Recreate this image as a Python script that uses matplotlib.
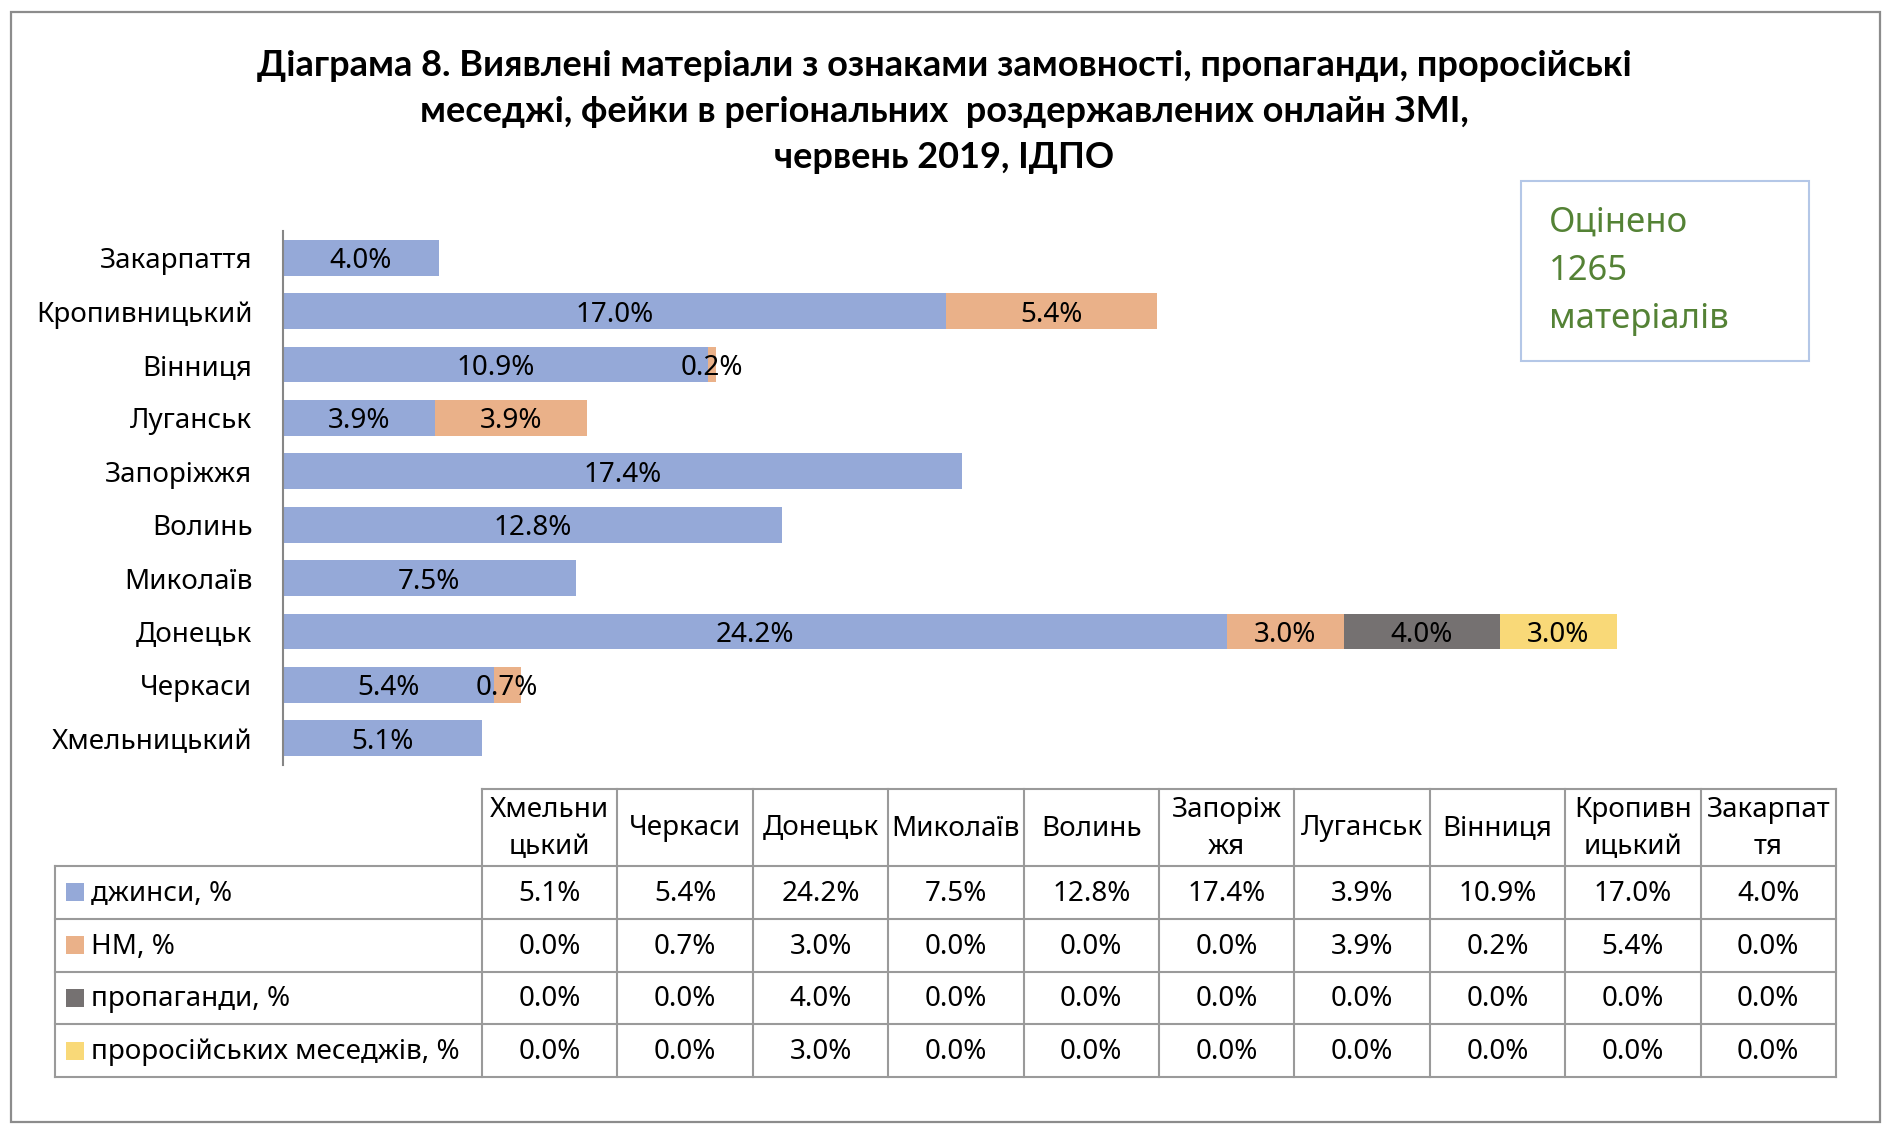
import matplotlib
matplotlib.use('Agg')
import matplotlib.pyplot as plt
from matplotlib.patches import Rectangle

plt.rcParams['font.family'] = ['Noto Sans', 'DejaVu Sans']

# data (table order, bottom bar first)
regions = ['Хмельницький', 'Черкаси', 'Донецьк', 'Миколаїв', 'Волинь',
           'Запоріжжя', 'Луганськ', 'Вінниця', 'Кропивницький', 'Закарпаття']
header_labels = ['Хмельни\nцький', 'Черкаси', 'Донецьк', 'Миколаїв', 'Волинь',
                 'Запоріж\nжя', 'Луганськ', 'Вінниця', 'Кропивн\nицький', 'Закарпат\nтя']
series_names = ['джинси, %', 'НМ, %', 'пропаганди, %', 'проросійських меседжів, %']
jeans = [5.1, 5.4, 24.2, 7.5, 12.8, 17.4, 3.9, 10.9, 17.0, 4.0]
nm = [0.0, 0.7, 3.0, 0.0, 0.0, 0.0, 3.9, 0.2, 5.4, 0.0]
propaganda = [0.0, 0.0, 4.0, 0.0, 0.0, 0.0, 0.0, 0.0, 0.0, 0.0]
prorussian = [0.0, 0.0, 3.0, 0.0, 0.0, 0.0, 0.0, 0.0, 0.0, 0.0]
series = [jeans, nm, propaganda, prorussian]
colors = ['#95A9D8', '#EAB189', '#757171', '#F9D978']

title_lines = ['Діаграма 8. Виявлені матеріали з ознаками замовності, пропаганди, проросійські',
               'меседжі, фейки в регіональних  роздержавлених онлайн ЗМІ,',
               'червень 2019, ІДПО']
note_lines = ['Оцінено', '1265', 'матеріалів']

W, H = 1892, 1134
fig = plt.figure(figsize=(W / 100, H / 100), dpi=100)

# overlay in pixel coords for frame, table, texts
ov = fig.add_axes([0, 0, 1, 1], zorder=0)
ov.set_xlim(0, W)
ov.set_ylim(H, 0)
ov.axis('off')

ov.add_patch(Rectangle((11, 12), 1869, 1110, fill=False, ec='#8C8C8C', lw=1.6))

for i, line in enumerate(title_lines):
    ov.text(944, 66 + 46 * i, line, ha='center', va='center',
            fontsize=26, fontweight='bold', color='black',
            family=['Lato', 'DejaVu Sans'])

ov.add_patch(Rectangle((1521, 181), 288, 180, fill=False, ec='#B4C7E7', lw=1.5))
for i, line in enumerate(note_lines):
    ov.text(1549, 232 + 48 * i, line, ha='left', va='baseline',
            fontsize=25, color='#548235')

# bar chart
ax_left, ax_top, ax_bot = 283, 231, 765
px_per_pct = 39.0
xmax = 40
ax = fig.add_axes([ax_left / W, 1 - ax_bot / H, xmax * px_per_pct / W, (ax_bot - ax_top) / H], zorder=1)
ax.patch.set_visible(False)
ypos = list(range(len(regions)))
left = [0.0] * len(regions)
for vals, c in zip(series, colors):
    ax.barh(ypos, vals, left=left, height=0.67, color=c)
    for y, v, l in zip(ypos, vals, left):
        if v > 0:
            ax.text(l + v / 2, y, f'{v:.1f}%', ha='center', va='center_baseline',
                    fontsize=20, color='black')
    left = [a + b for a, b in zip(left, vals)]
ax.set_xlim(0, xmax)
ax.set_ylim(-0.5, len(regions) - 0.5)
ax.set_yticks(ypos)
ax.set_yticklabels(regions, fontsize=20, va='center_baseline')
ax.tick_params(axis='y', length=0, pad=22)
ax.set_xticks([])
for s in ['top', 'right', 'bottom']:
    ax.spines[s].set_visible(False)
ax.spines['left'].set_color('#868686')
ax.spines['left'].set_linewidth(1.5)

# table
tcol0, tleft, col_w = 482, 55, 135.4
head_top, head_bot, row_h = 789, 866, 52.75
ncol = len(regions)
tright = tcol0 + ncol * col_w
lc, lw = '#9A9A9A', 1.5
tbot = head_bot + row_h * len(series)
ov.plot([tcol0, tright], [head_top, head_top], color=lc, lw=lw)
for r in range(len(series) + 1):
    yy = head_bot + r * row_h
    ov.plot([tleft, tright], [yy, yy], color=lc, lw=lw)
ov.plot([tleft, tleft], [head_bot, tbot], color=lc, lw=lw)
for c in range(ncol + 1):
    xx = tcol0 + c * col_w
    ov.plot([xx, xx], [head_top, tbot], color=lc, lw=lw)

for c, lab in enumerate(header_labels):
    ov.text(tcol0 + (c + 0.5) * col_w, (head_top + head_bot) / 2 + 1, lab,
            ha='center', va='center', fontsize=20, linespacing=1.45)

for r, (name, vals, col) in enumerate(zip(series_names, series, colors)):
    yc = head_bot + (r + 0.5) * row_h
    ov.add_patch(Rectangle((66, yc - 9), 18, 18, color=col, lw=0))
    ov.text(91, yc - 2, name, ha='left', va='center_baseline', fontsize=20)
    for c, v in enumerate(vals):
        ov.text(tcol0 + (c + 0.5) * col_w, yc - 2, f'{v:.1f}%',
                ha='center', va='center_baseline', fontsize=20)

fig.savefig('out.png', dpi=100, facecolor='white')
